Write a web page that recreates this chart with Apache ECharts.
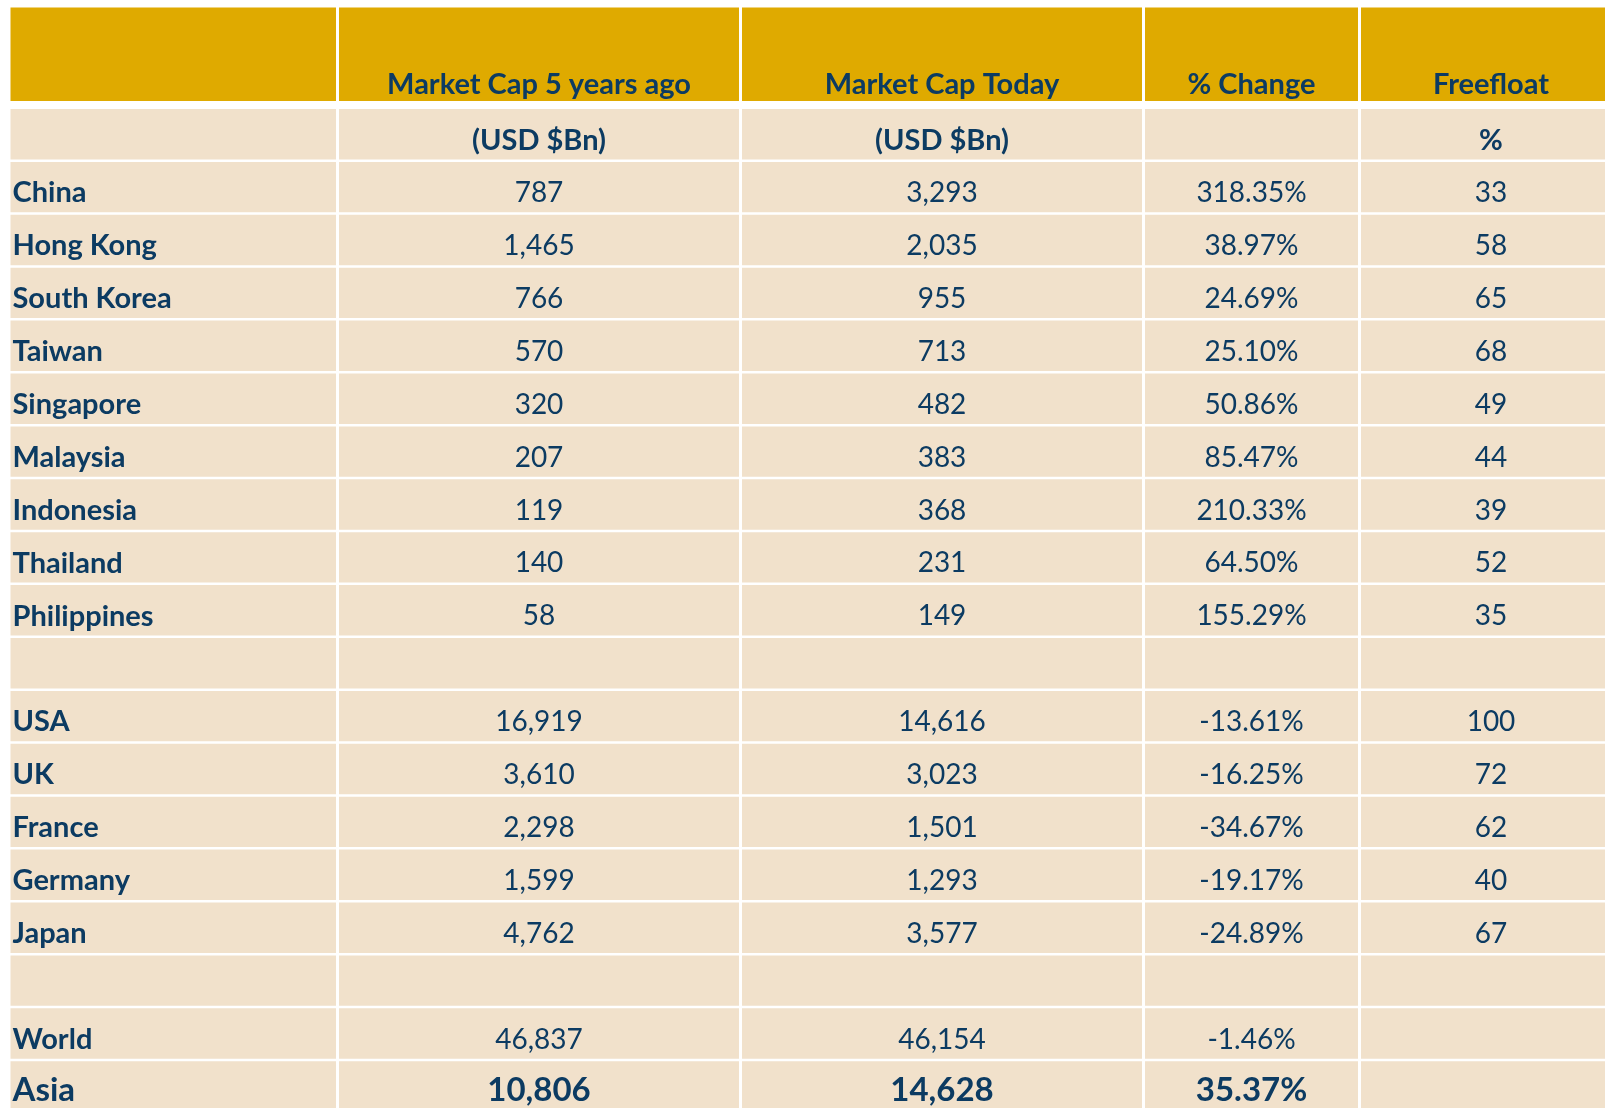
<!DOCTYPE html>
<html>
<head>
<meta charset="utf-8">
<title>Market Cap table</title>
<script src="https://cdn.jsdelivr.net/npm/echarts@6/dist/echarts.min.js"></script>
<style>
  html, body { margin: 0; padding: 0; background: #ffffff; overflow: hidden; }
  /* a bit larger than the window: the last column and row run off the edge */
  #ChartA { width: 1640px; height: 1140px; }
</style>
</head>
<body>
<div id="ChartA"></div>
<script>
// table content
const headers = ['', 'Market Cap 5 years ago', 'Market Cap Today', '% Change', 'Freefloat'];
const units = ['', '(USD $Bn)', '(USD $Bn)', '', '%'];
const countries = ['China', 'Hong Kong', 'South Korea', 'Taiwan', 'Singapore', 'Malaysia', 'Indonesia', 'Thailand', 'Philippines',
  '', 'USA', 'UK', 'France', 'Germany', 'Japan', '', 'World', 'Asia'];
const capPast = [787, 1465, 766, 570, 320, 207, 119, 140, 58, null, 16919, 3610, 2298, 1599, 4762, null, 46837, 10806];
const capToday = [3293, 2035, 955, 713, 482, 383, 368, 231, 149, null, 14616, 3023, 1501, 1293, 3577, null, 46154, 14628];
const pctChange = [318.35, 38.97, 24.69, 25.10, 50.86, 85.47, 210.33, 64.50, 155.29, null, -13.61, -16.25, -34.67, -19.17, -24.89, null, -1.46, 35.37];
const freefloat = [33, 58, 65, 68, 49, 44, 39, 52, 35, null, 100, 72, 62, 40, 67, null, null, null];

// layout
const colEdges = [10.5, 339, 742, 1145, 1361, 1624];
const headTop = 7.5, headHeight = 93.5;
const bodyTop = 109, rowH = 52.9;
const GOLD = '#dfaa00', BEIGE = '#f1e1cb', NAVY = '#0c3b62';
const FONT = 'Lato, "Noto Sans", sans-serif';

const fmtInt = v => v == null ? '' : v.toLocaleString('en-US');
const fmtPct = v => v == null ? '' : v.toFixed(2) + '%';

// one text column per table column, first row is the units row
const bodyRows = ['units'].concat(countries.map((c, i) => 'r' + i));
const colText = [
  [units[0]].concat(countries),
  [units[1]].concat(capPast.map(fmtInt)),
  [units[2]].concat(capToday.map(fmtInt)),
  [units[3]].concat(pctChange.map(fmtPct)),
  [units[4]].concat(freefloat.map(v => v == null ? '' : String(v)))
];

function rowStyle(row, col) {
  // last row (Asia) is big bold
  if (row === bodyRows.length - 1) return { weight: 'bold', size: 33, dy: 4 };
  if (row === 0 || col === 0) return { weight: 'bold', size: 29, dy: 6 };
  return { weight: 'normal', size: 28, dy: 6 };
}

function makeRender(col, isHeader) {
  return function (params, api) {
    const rowIdx = api.value(1);
    const c = api.coord([0, rowIdx]);
    const s = api.size([1, 1]);
    const x0 = c[0] - s[0] / 2;
    const y0 = c[1] - s[1] / 2;
    const w = s[0] - 3;
    const h = isHeader ? s[1] : s[1] - 2.5;
    const txt = isHeader ? headers[col] : colText[col][rowIdx];
    const st = isHeader ? { weight: 'bold', size: 29 } : rowStyle(rowIdx, col);
    const tx = col === 0 ? x0 + 2 : x0 + w / 2;
    const ty = isHeader ? y0 + 77 : y0 + h / 2 + st.dy;
    return {
      type: 'group',
      children: [
        { type: 'rect', shape: { x: x0, y: y0, width: w, height: h }, style: { fill: isHeader ? GOLD : BEIGE } },
        {
          type: 'text', x: tx, y: ty,
          style: {
            text: txt, fill: NAVY,
            font: st.weight + ' ' + st.size + 'px ' + FONT,
            align: col === 0 ? 'left' : 'center', verticalAlign: 'middle'
          }
        }
      ]
    };
  };
}

const grids = [], xAxes = [], yAxes = [], series = [];
headers.forEach((hd, col) => {
  const left = colEdges[col], width = colEdges[col + 1] - colEdges[col];
  // header grid
  grids.push({ left: left, width: width, top: headTop, height: headHeight });
  xAxes.push({ type: 'category', data: [hd], show: false, gridIndex: grids.length - 1 });
  yAxes.push({ type: 'category', data: ['head'], show: false, gridIndex: grids.length - 1 });
  series.push({
    type: 'custom', xAxisIndex: grids.length - 1, yAxisIndex: grids.length - 1,
    renderItem: makeRender(col, true), data: [[0, 0]], silent: true
  });
  // body grid
  grids.push({ left: left, width: width, top: bodyTop, height: rowH * bodyRows.length });
  xAxes.push({ type: 'category', data: [hd], show: false, gridIndex: grids.length - 1 });
  yAxes.push({ type: 'category', data: bodyRows, inverse: true, show: false, gridIndex: grids.length - 1 });
  series.push({
    type: 'custom', xAxisIndex: grids.length - 1, yAxisIndex: grids.length - 1,
    renderItem: makeRender(col, false), clip: false, silent: true,
    data: bodyRows.map((r, i) => [0, i])
  });
});

const ChartA = echarts.init(document.getElementById('ChartA'));
ChartA.setOption({
  animation: false,
  grid: grids,
  xAxis: xAxes,
  yAxis: yAxes,
  series: series
});
</script>
</body>
</html>
